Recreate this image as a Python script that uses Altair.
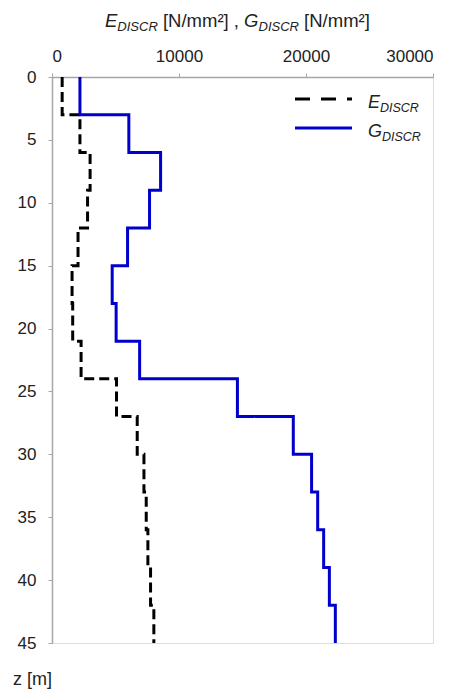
import altair as alt
import pandas as pd

# Layer boundaries (depth z in m) and discretised moduli [N/mm2]
z_top = [0, 3, 6, 9, 12, 15, 18, 21, 24, 27, 30, 33, 36, 39, 42]
z_bot = [3, 6, 9, 12, 15, 18, 21, 24, 27, 30, 33, 36, 39, 42, 45]
E_discr = [800, 2200, 3000, 2800, 2050, 1580, 1630, 2290, 5080, 6710, 7240, 7420, 7550, 7760, 8020]
G_discr = [2200, 6050, 8550, 7680, 5950, 4740, 5050, 6900, 14600, 19000, 20440, 20920, 21390, 21840, 22310]

x_ticks = [0, 10000, 20000, 30000]
y_ticks = [0, 5, 10, 15, 20, 25, 30, 35, 40, 45]

FONT = "Liberation Sans"
W, H = 381, 566

rows = []
for name, vals in [("E", E_discr), ("G", G_discr)]:
    k = 0
    for zt, zb, v in zip(z_top, z_bot, vals):
        rows.append({"series": name, "z": zt, "v": v, "o": k}); k += 1
        rows.append({"series": name, "z": zb, "v": v, "o": k}); k += 1
df = pd.DataFrame(rows)

xscale = alt.Scale(domain=[0, 30000], nice=False)
yscale = alt.Scale(domain=[0, 45], reverse=True, nice=False)

lines = alt.Chart(df).mark_line(strokeWidth=3, strokeCap="butt", strokeJoin="miter").encode(
    x=alt.X("v:Q", scale=xscale,
            axis=alt.Axis(orient="top", values=x_ticks, title=None, grid=False,
                          format="d", labelFontSize=17, labelFont=FONT, labelColor="#222222",
                          domainColor="#a6a6a6", tickColor="#a6a6a6", tickSize=4,
                          labelPadding=8, domainWidth=1.5)),
    y=alt.Y("z:Q", scale=yscale,
            axis=alt.Axis(values=y_ticks, title=None, grid=False, labelFontSize=17,
                          labelFont=FONT, labelColor="#222222", domainColor="#a6a6a6",
                          tickColor="#a6a6a6", tickSize=4, labelPadding=12, domainWidth=1.5)),
    color=alt.Color("series:N", scale=alt.Scale(domain=["E", "G"], range=["#000000", "#0000CC"]), legend=None),
    strokeDash=alt.StrokeDash("series:N", scale=alt.Scale(domain=["E", "G"], range=[[10, 5], [1, 0]]), legend=None),
    order="o:Q",
    detail="series:N",
)

# Arial/Liberation Sans advance widths (per 1000 em) for text layout
AW = {'E': 667, 'D': 722, 'I': 278, 'S': 667, 'C': 722, 'R': 722, ' ': 278, '[': 278,
      'N': 722, '/': 278, 'm': 833, '²': 333, ']': 278, ',': 278, 'G': 778, 'z': 500}

def tw(s, size):
    return sum(AW.get(c, 556) for c in s) * size / 1000.0

def piece(text, x, y, size, italic=False):
    return alt.Chart(pd.DataFrame({"t": [text]})).mark_text(
        align="left", baseline="alphabetic", fontSize=size, font=FONT,
        fontStyle="italic" if italic else "normal", color="#222222"
    ).encode(x=alt.value(x), y=alt.value(y), text="t:N")

layers = [lines]

# Title: E_DISCR [N/mm²] , G_DISCR [N/mm²]
MAIN, SUB = 18.5, 13
sp = tw(" ", MAIN)
title_parts = [("E", MAIN, True, 0, 0), ("DISCR", SUB, True, 4, sp), ("[N/mm²]", MAIN, False, 0, sp),
               (",", MAIN, False, 0, sp), ("G", MAIN, True, 0, 0), ("DISCR", SUB, True, 4, sp),
               ("[N/mm²]", MAIN, False, 0, 0)]
x0 = 53
for txt, sz, it, dy, gap in title_parts:
    layers.append(piece(txt, x0, -50 + dy, sz, it))
    x0 += tw(txt, sz) + gap

# z label
layers.append(piece("z [m]", -39, 608, 18, False))

# Legend
leg_x = 316
LM, LS = 18, 12.5
for name, ybase, yline, dash, col in [("E", 31, 22, [15, 11], "#000000"), ("G", 60, 51, [1, 0], "#0000CC")]:
    layers.append(alt.Chart(pd.DataFrame({"a": [0]})).mark_rule(
        strokeWidth=3, strokeDash=dash, color=col, strokeCap="butt"
    ).encode(x=alt.value(243), x2=alt.value(300), y=alt.value(yline)))
    layers.append(piece(name, leg_x, ybase, LM, True))
    layers.append(piece("DISCR", leg_x + tw(name, LM), ybase + 4, LS, True))

chart = alt.layer(*layers).properties(
    width=W, height=H,
    autosize=alt.AutoSizeParams(type="none"),
    padding={"left": 52, "top": 77, "right": 31, "bottom": 51},
).configure_view(stroke="#a6a6a6", strokeWidth=1.5).configure(background="white")

chart.save("out.html", embed_options={"renderer": "svg", "actions": False})
